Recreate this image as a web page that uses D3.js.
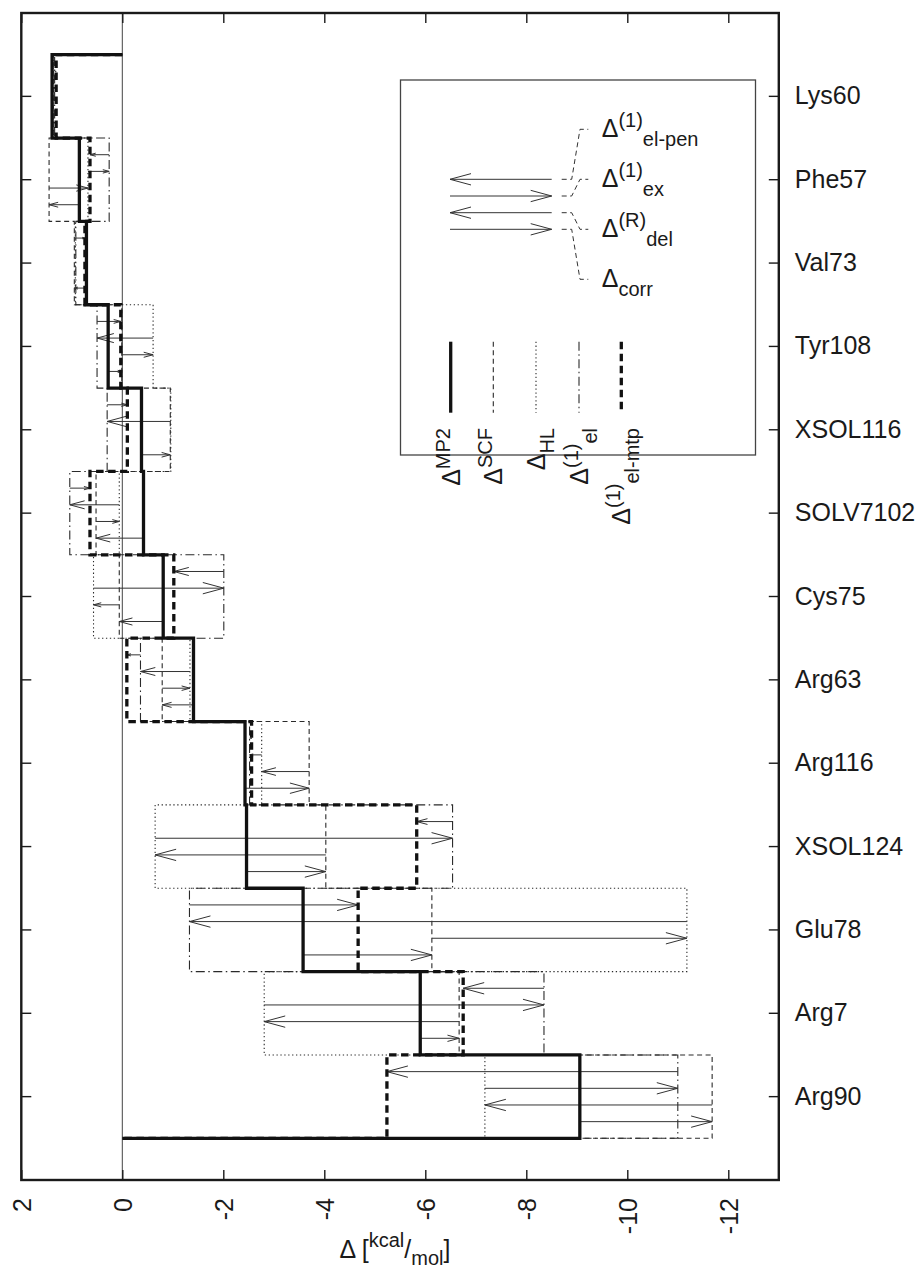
<!DOCTYPE html>
<html>
<head>
<meta charset="utf-8">
<script src="https://cdn.jsdelivr.net/npm/d3@7"></script>
<style>
  body { margin: 0; background: #fff; }
  text { font-family: "Liberation Sans", Arial, Helvetica, sans-serif; fill: #1a1a1a; }
</style>
</head>
<body>
<svg id="chart" width="921" height="1268"></svg>
<script>
// Residues, top to bottom
const residues = ["Lys60", "Phe57", "Val73", "Tyr108", "XSOL116", "SOLV7102", "Cys75",
                  "Arg63", "Arg116", "XSOL124", "Glu78", "Arg7", "Arg90"];

// Cumulative interaction energy levels in each residue band [kcal/mol]
const mp2   = [1.39, 0.85, 0.71, 0.28, -0.38, -0.42, -0.81, -1.41, -2.43, -2.46, -3.58, -5.90, -9.06];
const scf   = [1.37, 1.45, 0.95, 0.01, -0.95, 0.52, 0.06, -0.79, -3.70, -4.03, -6.13, -6.67, -11.68];
const hl    = [1.37, 0.68, 0.93, -0.61, -0.96, 0.06, 0.57, -1.34, -2.76, -0.65, -11.18, -2.81, -7.18];
const el    = [1.34, 0.26, 0.92, 0.50, 0.30, 1.04, -2.01, -0.36, -2.52, -6.54, -1.33, -8.35, -11.00];
const elMtp = [1.31, 0.64, 0.74, 0.03, -0.10, 0.64, -1.02, -0.09, -2.56, -5.83, -4.67, -6.75, -5.24];

const xTicks = [2, 0, -2, -4, -6, -8, -10, -12];

// Legend texts: [text, "sup" | "sub" | null]
const arrowLegend = [
  [["Δ", null], ["(1)", "sup"], ["el-pen", "sub"]],
  [["Δ", null], ["(1)", "sup"], ["ex", "sub"]],
  [["Δ", null], ["(R)", "sup"], ["del", "sub"]],
  [["Δ", null], ["corr", "sub"]]
];
const lineLegend = [
  [["Δ", null], ["MP2", "sup"]],
  [["Δ", null], ["SCF", "sup"]],
  [["Δ", null], ["HL", "sub"]],
  [["Δ", null], ["(1)", "sup"], ["el", "sub"]],
  [["Δ", null], ["(1)", "sup"], ["el-mtp", "sub"]]
];

const svg = d3.select("#chart");
const frame = { left: 21.3, right: 778.8, top: 13, bottom: 1180 };
const BIG = 25, SMALL = 20;

const x = d3.scaleLinear().domain([2, -13]).range([frame.left, frame.right]);
const y = d3.scaleBand().domain(residues).range([frame.top, frame.bottom])
  .paddingInner(0).paddingOuter(0.5);
const bw = y.bandwidth();

// line styles of the five levels
const styles = {
  scf:   { stroke: "#2a2a2a", width: 1.1, dash: "5,3.5" },
  hl:    { stroke: "#2a2a2a", width: 1.1, dash: "1.3,2.6" },
  el:    { stroke: "#2a2a2a", width: 1.1, dash: "9,3.5,1.5,3.5" },
  elMtp: { stroke: "#111",    width: 3.3, dash: "7.5,4.5" },
  mp2:   { stroke: "#111",    width: 3.3, dash: null }
};
const series = [
  { key: "scf", values: scf },
  { key: "hl", values: hl },
  { key: "el", values: el },
  { key: "elMtp", values: elMtp },
  { key: "mp2", values: mp2 }
];

// rich text with superscripts / subscripts
function richText(textSel, parts, big, small, supOff, subOff) {
  let cur = 0;
  parts.forEach(([t, kind]) => {
    const target = kind === "sup" ? -supOff : kind === "sub" ? subOff : 0;
    textSel.append("tspan")
      .attr("dy", target - cur)
      .style("font-size", (kind ? small : big) + "px")
      .text(t);
    cur = target;
  });
}

// ---- zero line
svg.append("line")
  .attr("x1", x(0)).attr("x2", x(0))
  .attr("y1", frame.top).attr("y2", frame.bottom)
  .attr("stroke", "#444").attr("stroke-width", 1);

// ---- stepped cumulative levels
const line = d3.line();
function stepPoints(vals) {
  const top = y(residues[0]);
  const bottom = y(residues[residues.length - 1]) + bw;
  const pts = [[x(0), top]];
  residues.forEach((r, i) => {
    pts.push([x(vals[i]), y(r)]);
    pts.push([x(vals[i]), y(r) + bw]);
  });
  pts.push([x(0), bottom]);
  return pts;
}

const gThin = svg.append("g");
const gArrows = svg.append("g");
const gThick = svg.append("g");

series.forEach(s => {
  const st = styles[s.key];
  const g = (s.key === "mp2" || s.key === "elMtp") ? gThick : gThin;
  g.append("path")
    .attr("d", line(stepPoints(s.values)))
    .attr("fill", "none")
    .attr("stroke", st.stroke)
    .attr("stroke-width", st.width)
    .attr("stroke-dasharray", st.dash)
    .attr("stroke-linejoin", "miter");
});

// ---- decomposition arrows inside each band
function drawArrow(g, x1, x2, yy, maxHead) {
  const len = Math.abs(x2 - x1);
  if (len < 0.5) return;
  const dir = Math.sign(x2 - x1);
  const L = Math.min(maxHead, len * 0.3);
  const hw = L * 0.27;
  g.append("line")
    .attr("x1", x1).attr("x2", x2).attr("y1", yy).attr("y2", yy)
    .attr("stroke", "#333").attr("stroke-width", 1);
  g.append("path")
    .attr("d", `M${x2 - dir * L},${yy - hw}L${x2},${yy}L${x2 - dir * L},${yy + hw}`)
    .attr("fill", "none").attr("stroke", "#333").attr("stroke-width", 1);
}
// el-pen: el -> el-mtp, ex: HL -> el, del: SCF -> HL, corr: MP2 -> SCF
const arrowPairs = [[el, elMtp], [hl, el], [scf, hl], [mp2, scf]];
residues.forEach((r, i) => {
  arrowPairs.forEach(([from, to], k) => {
    drawArrow(gArrows, x(from[i]), x(to[i]), y(r) + (k + 1) * bw / 5, 21);
  });
});

// ---- frame and axes
const axisG = svg.append("g");
const bottomAxis = d3.axisBottom(x).tickValues(xTicks).tickSize(-10).tickSizeOuter(0)
  .tickPadding(0).tickFormat(d => String(d));
const gb = axisG.append("g").attr("transform", `translate(0,${frame.bottom})`).call(bottomAxis);
gb.selectAll(".tick text")
  .attr("transform", "rotate(-90)")
  .attr("text-anchor", "end")
  .attr("x", -18).attr("y", 0).attr("dy", "0.36em")
  .style("font-size", BIG + "px");

const topAxis = d3.axisTop(x).tickValues(xTicks).tickSize(-10).tickSizeOuter(0).tickFormat("");
axisG.append("g").attr("transform", `translate(0,${frame.top})`).call(topAxis);

const leftAxis = d3.axisLeft(y).tickSize(-10).tickSizeOuter(0).tickFormat("");
axisG.append("g").attr("transform", `translate(${frame.left},0)`).call(leftAxis);

const rightAxis = d3.axisRight(y).tickSize(-10).tickSizeOuter(0).tickPadding(16);
const gr = axisG.append("g").attr("transform", `translate(${frame.right},0)`).call(rightAxis);
gr.selectAll(".tick text").style("font-size", BIG + "px").attr("fill", "#1a1a1a");

axisG.selectAll(".domain").remove();
axisG.selectAll(".tick line").attr("stroke", "#1a1a1a").attr("stroke-width", 1.4);
axisG.selectAll("text").attr("font-family", null);

svg.append("rect")
  .attr("x", frame.left).attr("y", frame.top)
  .attr("width", frame.right - frame.left).attr("height", frame.bottom - frame.top)
  .attr("fill", "none").attr("stroke", "#1a1a1a").attr("stroke-width", 2.4);

// ---- axis title
const title = svg.append("text").attr("x", 395).attr("y", 1258).attr("text-anchor", "middle");
richText(title, [["Δ [", null], ["kcal", "sup"], ["/", null], ["mol", "sub"], ["]", null]], BIG, SMALL, 11, 7);

// ---- legend
const lg = svg.append("g");
lg.append("rect").attr("x", 400.5).attr("y", 80).attr("width", 355).attr("height", 375)
  .attr("fill", "#fff").attr("stroke", "#444").attr("stroke-width", 1.3);

const legRows = [179.3, 196, 212.7, 229.3];
const legLabelY = [129.3, 179.3, 229.3, 279.3];
legRows.forEach((ry, k) => {
  const left = k % 2 === 0;
  drawArrow(lg, left ? 551.7 : 450, left ? 450 : 551.7, ry, 21);
  lg.append("path")
    .attr("d", `M561.7,${ry}L571.7,${ry}L580,${legLabelY[k]}L588.3,${legLabelY[k]}`)
    .attr("fill", "none").attr("stroke", "#333").attr("stroke-width", 1)
    .attr("stroke-dasharray", "5,3.5");
  const t = lg.append("text").attr("x", 601.7).attr("y", legLabelY[k] + 7.5);
  richText(t, arrowLegend[k], BIG, SMALL, 10, 9);
});

const sampleX = [450.7, 493.3, 536, 579, 621.3];
const sampleKeys = ["mp2", "scf", "hl", "el", "elMtp"];
sampleKeys.forEach((key, k) => {
  const st = styles[key];
  lg.append("line")
    .attr("x1", sampleX[k]).attr("x2", sampleX[k])
    .attr("y1", 341.7).attr("y2", 412.7)
    .attr("stroke", st.stroke).attr("stroke-width", st.width)
    .attr("stroke-dasharray", st.dash);
  const t = lg.append("text")
    .attr("transform", `translate(${sampleX[k] + 9},428) rotate(-90)`)
    .attr("text-anchor", "end");
  richText(t, lineLegend[k], BIG, SMALL, 10, 9);
});
</script>
</body>
</html>
